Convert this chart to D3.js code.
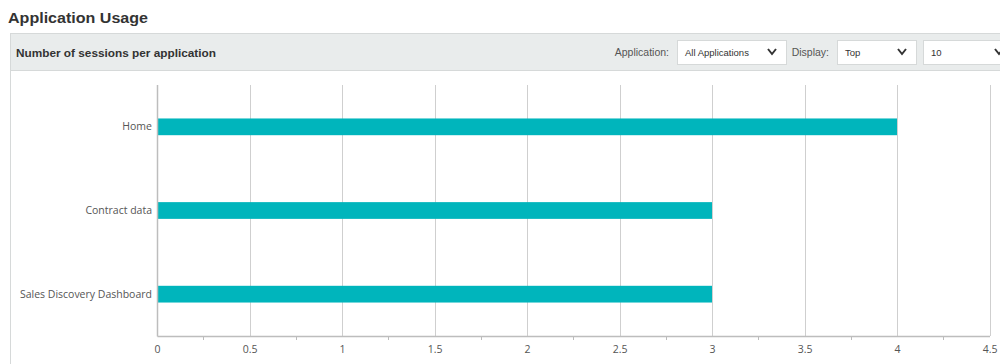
<!DOCTYPE html>
<html><head><meta charset="utf-8">
<script src="https://cdn.jsdelivr.net/npm/d3@7"></script>
<style>
body{margin:0;background:#fff;}
svg{display:block;}
</style></head>
<body>
<svg id="c" width="1000" height="364"></svg>
<script>
const categories = ["Home", "Contract data", "Sales Discovery Dashboard"];
const sessions = [4, 3, 3];
const tickValues = [0, 0.5, 1, 1.5, 2, 2.5, 3, 3.5, 4, 4.5];
const tickLabels = ["0", "0.5", "1", "1.5", "2", "2.5", "3", "3.5", "4", "4.5"];
const minorTicks = [0.25, 0.75, 1.25, 1.75, 2.25, 2.75, 3.25, 3.75, 4.25];

const svg = d3.select("#c");
const font = "'Open Sans', 'DejaVu Sans', sans-serif";

// Title
svg.append("text").attr("x", 8).attr("y", 23)
  .attr("font-family", "'Liberation Sans', Arial, sans-serif")
  .attr("font-weight", "bold").attr("font-size", 14.5).attr("fill", "#333")
  .attr("textLength", 140).attr("lengthAdjust", "spacingAndGlyphs")
  .text("Application Usage");

// Panel
svg.append("rect").attr("x", 10.5).attr("y", 33.5).attr("width", 1000).attr("height", 340)
  .attr("fill", "#fff").attr("stroke", "#d6d9d9");
svg.append("rect").attr("x", 10.5).attr("y", 33.5).attr("width", 1000).attr("height", 37)
  .attr("fill", "#e9ecec").attr("stroke", "#d6d9d9");
svg.append("text").attr("x", 16).attr("y", 57)
  .attr("font-family", "'Liberation Sans', Arial, sans-serif")
  .attr("font-weight", "bold").attr("font-size", 11.5).attr("fill", "#333")
  .attr("textLength", 200).attr("lengthAdjust", "spacingAndGlyphs")
  .text("Number of sessions per application");

// Controls
function label(x, t){
  svg.append("text").attr("x", x).attr("y", 56).attr("text-anchor", "end")
    .attr("font-family", "'Liberation Sans', Arial, sans-serif")
    .attr("font-size", 10.5).attr("fill", "#555").text(t);
}
function dropdown(x, w, t){
  svg.append("rect").attr("x", x + 0.5).attr("y", 40.5).attr("width", w).attr("height", 24)
    .attr("fill", "#fff").attr("stroke", "#d6d9d9");
  svg.append("text").attr("x", x + 8).attr("y", 56)
    .attr("font-family", "'Liberation Sans', Arial, sans-serif")
    .attr("font-size", 9.5).attr("fill", "#333").text(t);
  const cx = x + w - 14;
  svg.append("path").attr("d", `M${cx-4},${49} L${cx},${54} L${cx+4},${49}`)
    .attr("fill", "none").attr("stroke", "#333").attr("stroke-width", 2);
}
label(669, "Application:");
dropdown(677, 109, "All Applications");
label(829, "Display:");
dropdown(837, 79, "Top");
dropdown(923, 90, "10");

// Chart
const x = d3.scaleLinear().domain([0, 4.5]).range([157, 989.5]);
const y = d3.scaleBand().domain(categories).range([85, 336]).paddingInner(0.8).paddingOuter(0.4);

const g = svg.append("g");
// gridlines
g.selectAll("line.grid").data(tickValues.slice(1)).join("line")
  .attr("x1", d => Math.round(x(d)) + 0.5).attr("x2", d => Math.round(x(d)) + 0.5)
  .attr("y1", 85).attr("y2", 336).attr("stroke", "#cfcfcf").attr("stroke-width", 1);

// bars
g.selectAll("rect.bar").data(categories).join("rect")
  .attr("x", x(0)).attr("y", d => y(d))
  .attr("width", (d, i) => x(sessions[i]) - x(0))
  .attr("height", y.bandwidth()).attr("fill", "#00b5bc");

// y axis line
g.append("line").attr("x1", 157.5).attr("x2", 157.5).attr("y1", 85).attr("y2", 336.5)
  .attr("stroke", "#bdbdbd").attr("stroke-width", 1.5);

// x axis
const xAxis = d3.axisBottom(x).tickValues(tickValues)
  .tickFormat((d, i) => tickLabels[i]).tickSize(0).tickPadding(10);
const ax = svg.append("g").attr("transform", "translate(0,336)").call(xAxis);
ax.select(".domain").attr("stroke", "#bdbdbd").attr("stroke-width", 1.5);
ax.selectAll("text").attr("font-family", font).attr("font-size", 10.5).attr("fill", "#555");
svg.append("g").selectAll("line").data(minorTicks).join("line")
  .attr("x1", d => Math.round(x(d)) + 0.5).attr("x2", d => Math.round(x(d)) + 0.5)
  .attr("y1", 337).attr("y2", 340).attr("stroke", "#bbb");

// y labels
const yAxis = d3.axisLeft(y).tickSize(0).tickPadding(5);
const ay = svg.append("g").attr("transform", "translate(157,0)").call(yAxis);
ay.select(".domain").remove();
ay.selectAll("text").attr("font-family", font).attr("font-size", 10.5).attr("fill", "#555");
</script>
</body></html>
